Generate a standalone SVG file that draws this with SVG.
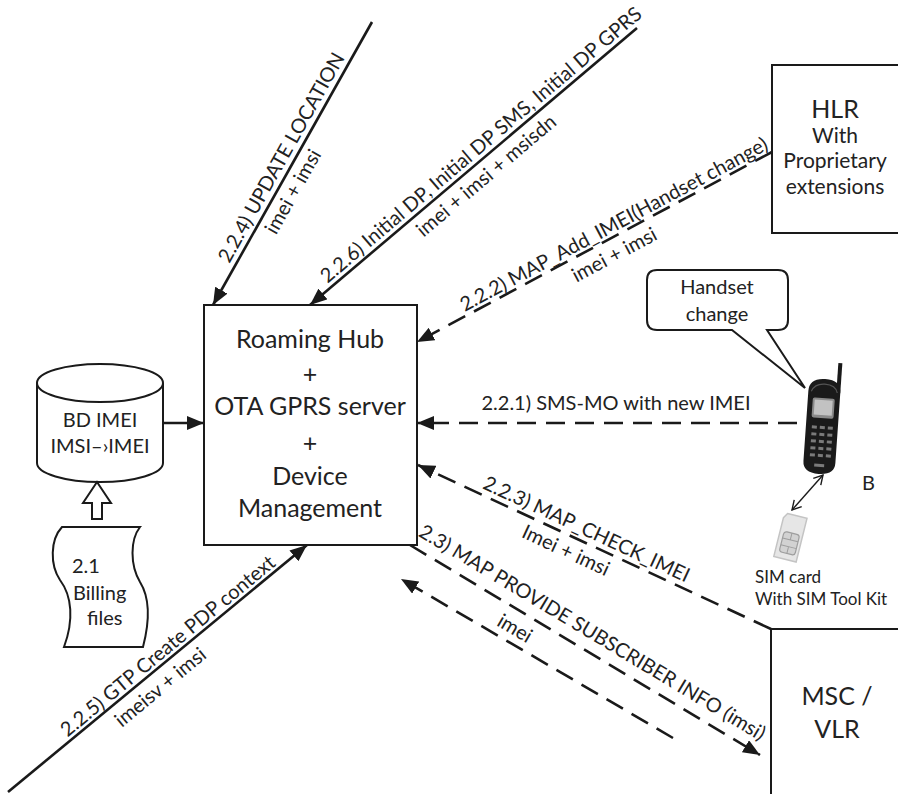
<svg xmlns="http://www.w3.org/2000/svg" width="898" height="794" viewBox="0 0 898 794">
  <style>
    text { font-family: "Lato", "Open Sans", "Liberation Sans", sans-serif; fill: #222; }
    .box { fill: #fff; stroke: #1a1a1a; stroke-width: 2; }
    .big { font-size: 25px; text-anchor: middle; }
    .mid { font-size: 20px; text-anchor: middle; }
    .hlr { font-size: 21px; text-anchor: middle; }
    .left { font-size: 20px; text-anchor: start; }
    .lbl { font-size: 20px; text-anchor: middle; }
    .small { font-size: 17px; }
    .solid { fill: none; stroke: #1a1a1a; stroke-width: 2.6; marker-end: url(#head); }
    .dash { fill: none; stroke: #1a1a1a; stroke-width: 2.6; stroke-dasharray: 19 10; marker-end: url(#head); }
    .thin { fill: none; stroke: #1a1a1a; stroke-width: 1.4; }
  </style>
  <defs>
    <marker id="head" markerUnits="userSpaceOnUse" markerWidth="18" markerHeight="14" refX="17" refY="7" orient="auto">
      <path d="M0,0 L17,7 L0,14 Z" fill="#1a1a1a"/>
    </marker>
    <marker id="open" markerUnits="userSpaceOnUse" markerWidth="12" markerHeight="12" refX="10" refY="6" orient="auto-start-reverse">
      <path d="M1,1 L10,6 L1,11" fill="none" stroke="#1a1a1a" stroke-width="1.4"/>
    </marker>
  </defs>

  <rect width="898" height="794" fill="#fff"/>

  <!-- central platform -->
  <g id="hub">
    <rect class="box" x="204" y="305" width="213" height="240"/>
    <text class="big" x="310" y="348">Roaming Hub</text>
    <text class="big" x="310" y="383">+</text>
    <text class="big" x="310" y="415">OTA GPRS server</text>
    <text class="big" x="310" y="452">+</text>
    <text class="big" x="310" y="485">Device</text>
    <text class="big" x="310" y="517">Management</text>
  </g>

  <!-- IMEI database -->
  <g id="db">
    <path class="box" d="M37,383 L37,463 A63,19 0 0 0 163,463 L163,383"/>
    <ellipse class="box" cx="100" cy="383" rx="63" ry="19"/>
    <text class="mid" x="100" y="427">BD IMEI</text>
    <text class="mid" x="100" y="453">IMSI–›IMEI</text>
  </g>

  <!-- billing files -->
  <g id="billing">
    <path class="box" d="M62,527 L140,527 C130,540 130,565 140,582 C150,598 150,620 143,647 L64,647 C74,620 72,596 60,580 C50,565 50,540 62,527 Z"/>
    <text class="left" x="72" y="573">2.1</text>
    <text class="left" x="73" y="600">Billing</text>
    <text class="left" x="87" y="625">files</text>
    <polygon class="box" points="97,482 111,503 102,503 102,519 92,519 92,503 83,503"/>
  </g>

  <!-- HLR -->
  <g id="hlr">
    <rect class="box" x="772" y="65" width="140" height="168"/>
    <text class="big" x="835" y="118">HLR</text>
    <text class="hlr" x="835" y="143">With</text>
    <text class="hlr" x="835" y="168">Proprietary</text>
    <text class="hlr" x="835" y="194">extensions</text>
  </g>

  <!-- MSC / VLR -->
  <g id="msc">
    <rect class="box" x="771" y="629" width="140" height="180"/>
    <text class="big" x="837" y="705">MSC /</text>
    <text class="big" x="837" y="738">VLR</text>
  </g>

  <!-- handset with speech bubble -->
  <g id="handset">
    <path class="box" d="M657,270 H778 Q788,270 788,280 V320 Q788,330 778,330 H767 L805,388 L732,330 H657 Q647,330 647,320 V280 Q647,270 657,270 Z"/>
    <text class="mid" x="717" y="294">Handset</text>
    <text class="mid" x="717" y="321">change</text>
    <g transform="rotate(4 822 425)">
      <path d="M834,362 L838,362 L838,392 L834,392 Z" fill="#1a1a1a"/>
      <path d="M806,392 Q806,379 822,379 Q838,379 838,392 L838,462 Q838,474 822,474 Q806,474 806,462 Z" fill="#1a1a1a"/>
      <path d="M809,392 Q812,384 822,384 Q833,384 835,392" fill="none" stroke="#555" stroke-width="1.2"/>
      <rect x="811" y="398" width="22" height="20" rx="2" fill="#8a8a8a"/>
      <rect x="813" y="400" width="18" height="15" fill="#c2c2c2"/>
      <g fill="#7a7a7a">
        <rect x="812" y="426" width="5" height="3"/><rect x="820" y="426" width="5" height="3"/><rect x="828" y="426" width="5" height="3"/>
        <rect x="812" y="433" width="5" height="3"/><rect x="820" y="433" width="5" height="3"/><rect x="828" y="433" width="5" height="3"/>
        <rect x="812" y="440" width="5" height="3"/><rect x="820" y="440" width="5" height="3"/><rect x="828" y="440" width="5" height="3"/>
        <rect x="812" y="447" width="5" height="3"/><rect x="820" y="447" width="5" height="3"/><rect x="828" y="447" width="5" height="3"/>
        <rect x="812" y="454" width="5" height="3"/><rect x="820" y="454" width="5" height="3"/><rect x="828" y="454" width="5" height="3"/>
        <rect x="817" y="464" width="10" height="3"/>
      </g>
    </g>
    <text x="862" y="490" font-size="20">B</text>
  </g>

  <!-- SIM card -->
  <g id="sim">
    <g transform="rotate(14 791 537)">
      <path d="M782,515 H802 V560 H779 V520 Z" fill="#e6e6e6" stroke="#c4c4c4" stroke-width="1.5"/>
      <rect x="783" y="533" width="16" height="21" rx="3" fill="#d2d2d2" stroke="#9e9e9e" stroke-width="1.2"/>
      <path d="M783,540 H799 M783,547 H799 M791,533 V540 M791,547 V554" stroke="#9e9e9e" stroke-width="1"/>
    </g>
    <text class="small" x="755" y="583">SIM card</text>
    <text class="small" x="755" y="605">With SIM Tool Kit</text>
  </g>

  <!-- message flows -->
  <g id="connectors">
    <line class="thin" x1="823" y1="475" x2="792" y2="510" marker-start="url(#open)" marker-end="url(#open)"/>

    <line class="solid" x1="163" y1="423" x2="204" y2="423"/>

    <!-- 2.2.4 -->
    <line class="solid" x1="372" y1="22" x2="213" y2="305"/>
    <g transform="translate(286.5 174.2) rotate(-60.67)">
      <text class="lbl" x="12" y="-6">2.2.4) UPDATE LOCATION</text>
      <text class="lbl" x="-12" y="21">imei + imsi</text>
    </g>

    <!-- 2.2.6 -->
    <line class="solid" x1="637" y1="28" x2="310" y2="305"/>
    <g transform="translate(481.7 159.6) rotate(-40.27)">
      <text class="lbl" x="9" y="-5">2.2.6) Initial DP, Initial DP SMS, Initial DP GPRS</text>
      <text class="lbl" x="-7" y="22">imei + imsi + msisdn</text>
    </g>

    <!-- 2.2.2 -->
    <line class="dash" x1="772" y1="152" x2="417" y2="342"/>
    <g transform="translate(611 238.2) rotate(-28.16)">
      <text class="lbl" x="9" y="-4">2.2.2) MAP_Add_IMEI(Handset change)</text>
      <text class="lbl" x="-5" y="23">imei + imsi</text>
    </g>

    <!-- 2.2.1 -->
    <line class="dash" x1="797" y1="423" x2="417" y2="423"/>
    <text class="lbl" x="616" y="410">2.2.1) SMS-MO with new IMEI</text>

    <!-- 2.2.3 -->
    <line class="dash" x1="771" y1="629" x2="418" y2="465"/>
    <g transform="translate(572.2 536.6) rotate(24.9)">
      <text class="lbl" x="10" y="-6">2.2.3) MAP_CHECK_IMEI</text>
      <text class="lbl" x="0" y="22">Imei + imsi</text>
    </g>

    <!-- 2.3 -->
    <line class="dash" x1="410" y1="545" x2="760" y2="755"/>
    <g transform="translate(582.7 648.6) rotate(30.96)">
      <text class="lbl" x="0" y="-12">2.3) MAP PROVIDE SUBSCRIBER INFO (imsi)</text>
    </g>
    <line class="dash" x1="673" y1="738" x2="401" y2="579"/>
    <g transform="translate(506.4 642.8) rotate(30.55)">
      <text class="lbl" x="0" y="-10">imei</text>
    </g>

    <!-- 2.2.5 -->
    <line class="solid" x1="8" y1="792" x2="307" y2="545"/>
    <g transform="translate(174.7 654.3) rotate(-39.56)">
      <text class="lbl" x="0" y="-4">2.2.5) GTP Create PDP context</text>
      <text class="lbl" x="-32" y="23">imeisv + imsi</text>
    </g>
  </g>
</svg>
